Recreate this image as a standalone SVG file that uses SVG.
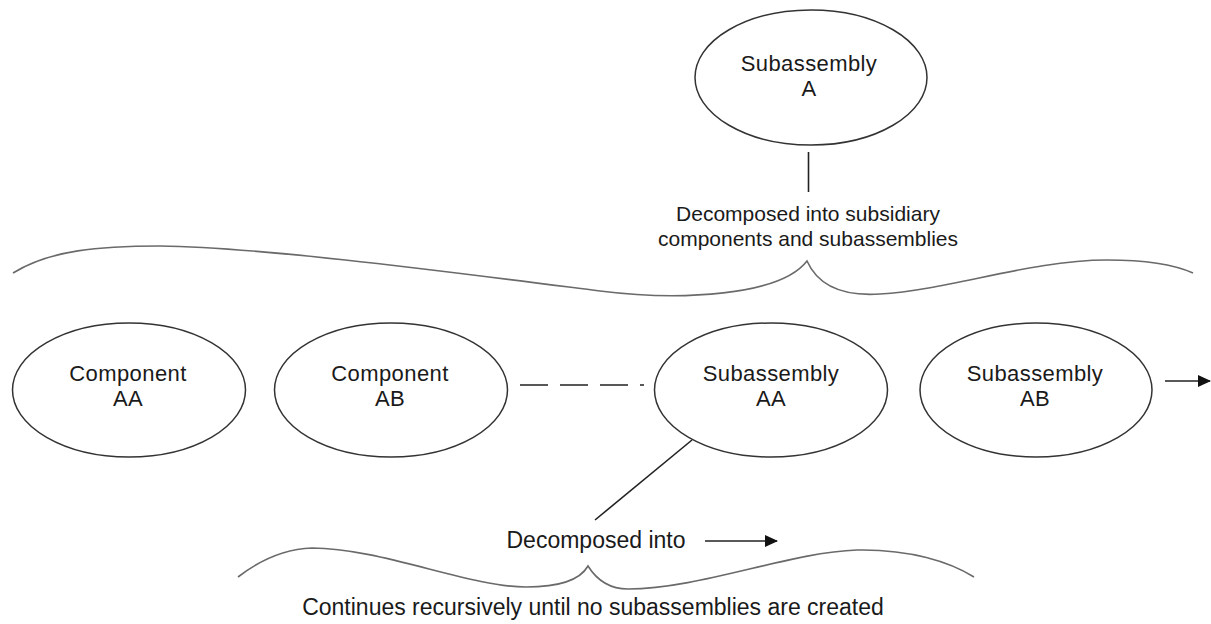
<svg xmlns="http://www.w3.org/2000/svg" width="1211" height="624" viewBox="0 0 1211 624">
  <defs>
    <style>
      .node ellipse { fill: #ffffff; stroke: #333333; stroke-width: 1.5; }
      .lbl { font-family: "Liberation Sans", Arial, sans-serif; font-size: 22px; letter-spacing: 0.4px; fill: #1a1a1a; text-anchor: middle; }
      .note { font-family: "Liberation Sans", Arial, sans-serif; font-size: 21px; fill: #1a1a1a; text-anchor: middle; }
      .big { font-size: 23px; letter-spacing: 0; }
      .brace { fill: none; stroke: #6a6a6a; stroke-width: 1.6; }
      .edge { fill: none; stroke: #222222; stroke-width: 1.6; }
    </style>
    <marker id="arrow" viewBox="0 0 13 12" refX="12" refY="6" markerWidth="13" markerHeight="12" markerUnits="userSpaceOnUse" orient="auto">
      <path d="M0,0 L13,6 L0,12 z" fill="#111111"/>
    </marker>
  </defs>

  <rect width="1211" height="624" fill="#ffffff"/>

  <!-- parent subassembly -->
  <g id="subassembly-a" class="node">
    <ellipse cx="811" cy="77.5" rx="116" ry="67.5"/>
    <text class="lbl" x="809" y="71">Subassembly</text>
    <text class="lbl" x="809" y="95.5">A</text>
  </g>

  <!-- children -->
  <g id="component-aa" class="node">
    <ellipse cx="129" cy="390" rx="116.5" ry="67"/>
    <text class="lbl" x="128" y="381">Component</text>
    <text class="lbl" x="128" y="405.5">AA</text>
  </g>
  <g id="component-ab" class="node">
    <ellipse cx="391" cy="390" rx="116.5" ry="67"/>
    <text class="lbl" x="390" y="381">Component</text>
    <text class="lbl" x="390" y="405.5">AB</text>
  </g>
  <g id="subassembly-aa" class="node">
    <ellipse cx="771" cy="390" rx="116.5" ry="67"/>
    <text class="lbl" x="771" y="381">Subassembly</text>
    <text class="lbl" x="771" y="405.5">AA</text>
  </g>
  <g id="subassembly-ab" class="node">
    <ellipse cx="1036" cy="390" rx="116" ry="67"/>
    <text class="lbl" x="1035" y="381">Subassembly</text>
    <text class="lbl" x="1035" y="405.5">AB</text>
  </g>

  <!-- annotations -->
  <g id="notes">
    <text class="note" x="808" y="221">Decomposed into subsidiary</text>
    <text class="note" x="808" y="246">components and subassemblies</text>
    <text class="lbl big" x="596" y="548">Decomposed into</text>
    <text class="lbl big" x="593" y="615">Continues recursively until no subassemblies are created</text>
  </g>

  <!-- connectors -->
  <g id="connectors">
    <line class="edge" x1="808.5" y1="152" x2="808.5" y2="192"/>
    <line class="edge" x1="520" y1="385" x2="644" y2="385" stroke-dasharray="28 12"/>
    <line class="edge" x1="1165" y1="381" x2="1210" y2="381" marker-end="url(#arrow)"/>
    <line class="edge" x1="692" y1="440" x2="595" y2="520"/>
    <line class="edge" x1="705" y1="541" x2="777" y2="541" marker-end="url(#arrow)"/>
    <!-- grouping braces -->
    <path class="brace" d="M13,273 C50,250 100,246 160,246 C260,247 450,272 600,291 C680,301 780,296 807,261 C820,290 850,296 880,294 C950,290 1030,260 1107,260 C1150,260 1175,265 1193,273"/>
    <path class="brace" d="M238,577 C260,560 285,549 312,548 C380,548 470,587 526,587 C560,587 580,580 588,566 C598,582 612,589 628,589 C700,589 790,552 857,550 C910,549 950,562 974,577"/>
  </g>
</svg>
